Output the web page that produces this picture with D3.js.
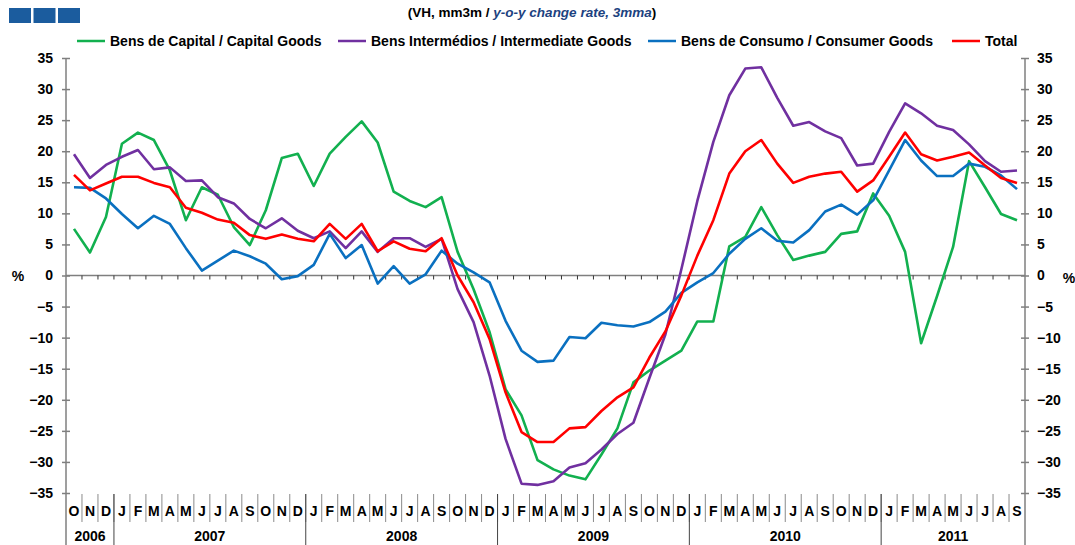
<!DOCTYPE html>
<html>
<head>
<meta charset="utf-8">
<script src="https://cdn.jsdelivr.net/npm/d3@7"></script>
<style>
  body { margin: 0; background: #fff; }
  svg { display: block; font-family: "Liberation Sans", Arial, sans-serif; }
</style>
</head>
<body>
<svg width="1075" height="545"></svg>
<script>
// data, Oct 2006 .. Sep 2011 (60 months)
var monthInitials = ["J", "F", "M", "A", "M", "J", "J", "A", "S", "O", "N", "D"];
var years = [2006, 2007, 2008, 2009, 2010, 2011];
var startMonth = 9;   // October 2006 (0-based)
var monthCount = 60;

var capitalGoods = [7.5, 3.7, 9.4, 21.2, 23.0, 21.8, 16.9, 8.9, 14.2, 13.0, 7.8, 4.9,
  10.5, 18.9, 19.6, 14.4, 19.6, 22.3, 24.8, 21.4, 13.5, 12.0, 11.0, 12.6,
  3.8, -2.2, -9.1, -18.3, -22.5, -29.7, -31.2, -32.2, -32.8, -28.8, -24.6, -17.2,
  -15.3, -13.7, -12.1, -7.4, -7.4, 4.7, 6.2, 11.0, 6.5, 2.5, 3.2, 3.8,
  6.7, 7.1, 13.2, 9.6, 3.8, -10.9, -3.3, 4.6, 18.4, 14.2, 9.9, 8.9];

var intermediateGoods = [19.5, 15.7, 17.8, 19.1, 20.2, 17.1, 17.4, 15.2, 15.3, 12.6, 11.6, 9.1,
  7.6, 9.2, 7.2, 6.0, 7.1, 4.4, 7.1, 3.8, 6.0, 6.0, 4.6, 5.9,
  -2.2, -7.5, -16.1, -26.3, -33.5, -33.7, -33.1, -30.9, -30.2, -28.0, -25.5, -23.7,
  -16.5, -9.5, 1.0, 12.0, 21.5, 29.0, 33.3, 33.5, 28.6, 24.1, 24.7, 23.2,
  22.1, 17.7, 18.0, 23.1, 27.7, 26.1, 24.1, 23.4, 21.1, 18.4, 16.7, 16.9];

var consumerGoods = [14.2, 14.1, 12.4, 9.9, 7.6, 9.6, 8.3, 4.4, 0.8, 2.4, 4.0, 3.1,
  1.9, -0.6, -0.1, 1.7, 6.7, 2.8, 4.9, -1.3, 1.5, -1.3, 0.2, 4.0,
  1.9, 0.5, -1.1, -7.3, -12.1, -13.9, -13.7, -9.9, -10.1, -7.6, -8.0, -8.2,
  -7.5, -5.8, -2.8, -1.1, 0.4, 3.5, 5.9, 7.6, 5.6, 5.3, 7.3, 10.3,
  11.4, 9.8, 12.1, 16.9, 21.8, 18.5, 16.0, 16.0, 18.0, 17.5, 16.1, 13.9];

var total = [16.2, 13.7, 14.8, 15.9, 15.9, 14.9, 14.2, 10.9, 10.1, 9.0, 8.5, 6.5,
  5.9, 6.6, 5.9, 5.5, 8.3, 5.9, 8.3, 3.9, 5.5, 4.3, 3.9, 6.0,
  0.0, -4.3, -10.2, -18.8, -25.2, -26.8, -26.8, -24.6, -24.4, -21.8, -19.6, -18.0,
  -13.2, -9.0, -3.2, 3.2, 8.9, 16.4, 20.0, 21.8, 18.0, 14.9, 15.9, 16.4,
  16.7, 13.5, 15.3, 19.1, 23.0, 19.5, 18.5, 19.1, 19.8, 17.7, 15.7, 14.9];

var seriesNames = ["Bens de Capital / Capital Goods", "Bens Intermédios / Intermediate Goods",
  "Bens de Consumo / Consumer Goods", "Total"];
var seriesColors = ["#12b04f", "#7030a0", "#0a70c0", "#ff0000"];
var yTicks = d3.range(-35, 36, 5);

// build month categories
var categories = [];
for (var k = 0; k < monthCount; k++) {
  var m = (startMonth + k) % 12;
  var yr = years[0] + Math.floor((startMonth + k) / 12);
  categories.push({ id: yr + "-" + (m + 1), year: yr, letter: monthInitials[m] });
}
var allSeries = [capitalGoods, intermediateGoods, consumerGoods, total];

var svg = d3.select("svg");
var plotLeft = 66, plotRight = 1025, plotTop = 58, plotBottom = 493;

var x = d3.scaleBand()
  .domain(categories.map(function(d) { return d.id; }))
  .range([plotLeft, plotRight]);
var y = d3.scaleLinear().domain([-35, 35]).range([plotBottom, plotTop]);
var cx = function(i) { return x(categories[i].id) + x.bandwidth() / 2; };

// logo squares
svg.selectAll("rect.logo")
  .data([0, 1, 2])
  .enter().append("rect")
  .attr("x", function(d) { return 9 + d * 24.5; })
  .attr("y", 8)
  .attr("width", 22)
  .attr("height", 15)
  .attr("fill", "#1b5c9e");

// title
var title = svg.append("text")
  .attr("x", 532).attr("y", 17)
  .attr("text-anchor", "middle")
  .style("font-size", "13.5px").style("font-weight", "bold");
title.append("tspan").text("(VH, mm3m / ");
title.append("tspan").style("font-style", "italic").attr("fill", "#1c4280").text("y-o-y change rate, 3mma");
title.append("tspan").text(")");

// legend
var legendX = [77, 338, 648, 952];
var legend = svg.selectAll("g.legend")
  .data(seriesNames)
  .enter().append("g")
  .attr("transform", function(d, i) { return "translate(" + legendX[i] + ",41)"; });
legend.append("line")
  .attr("x1", 0).attr("x2", 28)
  .attr("stroke", function(d, i) { return seriesColors[i]; })
  .attr("stroke-width", 2.5);
legend.append("text")
  .attr("x", 33).attr("y", 5)
  .style("font-size", "14px").style("font-weight", "bold")
  .text(function(d) { return d; });

// y axes
var axisL = svg.append("g")
  .attr("transform", "translate(" + plotLeft + ",0)")
  .call(d3.axisLeft(y).tickValues(yTicks).tickSize(4).tickPadding(9));
var axisR = svg.append("g")
  .attr("transform", "translate(" + plotRight + ",0)")
  .call(d3.axisRight(y).tickValues(yTicks).tickSize(4).tickPadding(8));
axisL.selectAll(".tick line").attr("x1", 4);
axisR.selectAll(".tick line").attr("x1", -4);
[axisL, axisR].forEach(function(a) {
  a.select(".domain").remove();
  a.selectAll(".tick line").attr("stroke", "#7f7f7f").attr("stroke-width", 1.5);
  a.selectAll(".tick text")
    .attr("fill", "#000")
    .style("font-size", "14px").style("font-weight", "bold")
    .style("font-family", "'Liberation Sans', Arial, sans-serif");
  a.append("line")
    .attr("y1", plotTop).attr("y2", 545)
    .attr("stroke", "#7f7f7f").attr("stroke-width", 1.5);
});

svg.append("text").attr("x", 18).attr("y", y(0) + 5)
  .attr("text-anchor", "middle")
  .style("font-size", "14px").style("font-weight", "bold").text("%");
svg.append("text").attr("x", 1069).attr("y", y(0) + 7)
  .attr("text-anchor", "middle")
  .style("font-size", "14px").style("font-weight", "bold").text("%");

// zero line with category ticks
svg.append("line")
  .attr("x1", plotLeft).attr("x2", plotRight)
  .attr("y1", y(0)).attr("y2", y(0))
  .attr("stroke", "#7f7f7f").attr("stroke-width", 1.5);
var bounds = categories.slice(1).map(function(d) { return x(d.id); });
svg.selectAll("line.ztick")
  .data(bounds)
  .enter().append("line")
  .attr("x1", function(d) { return d; }).attr("x2", function(d) { return d; })
  .attr("y1", y(0)).attr("y2", y(0) + 4)
  .attr("stroke", "#333").attr("stroke-width", 1);

// month row
svg.selectAll("line.msep")
  .data(bounds)
  .enter().append("line")
  .attr("x1", function(d) { return d; }).attr("x2", function(d) { return d; })
  .attr("y1", plotBottom + 1).attr("y2", 522)
  .attr("stroke", "#8a8a8a").attr("stroke-width", 1);
svg.selectAll("text.month")
  .data(categories)
  .enter().append("text")
  .attr("x", function(d) { return x(d.id) + x.bandwidth() / 2; })
  .attr("y", 516)
  .attr("text-anchor", "middle")
  .style("font-size", "14px").style("font-weight", "bold")
  .text(function(d) { return d.letter; });

// year row
var yearGroups = years.map(function(yr) {
  var cats = categories.filter(function(d) { return d.year === yr; });
  return { year: yr, x0: x(cats[0].id), x1: x(cats[cats.length - 1].id) + x.bandwidth() };
});
svg.selectAll("line.ysep")
  .data(yearGroups.slice(1))
  .enter().append("line")
  .attr("x1", function(d) { return d.x0; }).attr("x2", function(d) { return d.x0; })
  .attr("y1", plotBottom + 1).attr("y2", 545)
  .attr("stroke", "#444").attr("stroke-width", 1);
svg.selectAll("text.year")
  .data(yearGroups)
  .enter().append("text")
  .attr("x", function(d) { return (d.x0 + d.x1) / 2; })
  .attr("y", 541)
  .attr("text-anchor", "middle")
  .style("font-size", "14px").style("font-weight", "bold")
  .text(function(d) { return d.year; });

// series lines
var line = d3.line()
  .x(function(d, i) { return cx(i); })
  .y(function(d) { return y(d); });
svg.selectAll("path.series")
  .data(allSeries)
  .enter().append("path")
  .attr("d", line)
  .attr("fill", "none")
  .attr("stroke", function(d, i) { return seriesColors[i]; })
  .attr("stroke-width", 2.6)
  .attr("stroke-linejoin", "round");
</script>
</body>
</html>
